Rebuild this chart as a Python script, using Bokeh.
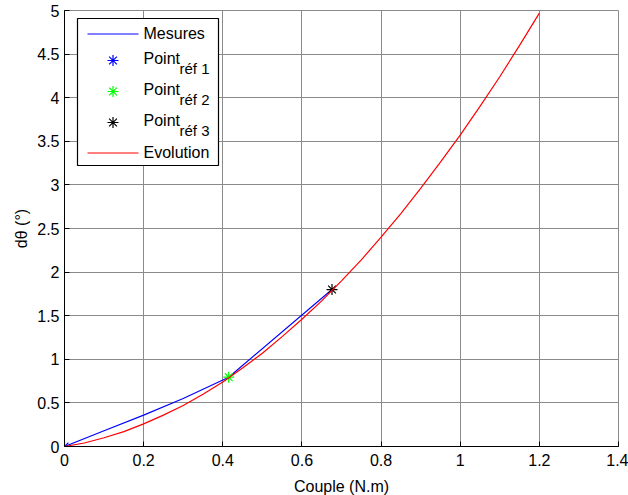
from bokeh.plotting import figure
from bokeh.models import Range1d, FixedTicker
from bokeh.core.properties import value
from bokeh.embed import file_html
from bokeh.resources import INLINE

# ---- data ----
couple_mes = [0.0, 0.1, 0.2, 0.3, 0.415, 0.676]
dtheta_mes = [0.0, 0.18, 0.36, 0.55, 0.795, 1.80]

ref_x = [0.0, 0.415, 0.676]
ref_y = [0.0, 0.795, 1.80]
ref_colors = ["#0000ff", "#00ff00", "#000000"]
ref_names = ["réf 1", "réf 2", "réf 3"]

couple_evo = [0.0, 0.05, 0.1, 0.15, 0.2, 0.25, 0.3, 0.35, 0.4, 0.45, 0.5, 0.55,
              0.6, 0.65, 0.7, 0.75, 0.8, 0.85, 0.9, 0.95, 1.0, 1.05, 1.1, 1.15, 1.2]
dtheta_evo = [0.0, 0.04, 0.10, 0.17, 0.26, 0.36, 0.47, 0.60, 0.74, 0.90, 1.07, 1.26,
              1.46, 1.67, 1.90, 2.14, 2.40, 2.67, 2.96, 3.26, 3.57, 3.90, 4.24, 4.60, 4.97]

x_ticks = [0, 0.2, 0.4, 0.6, 0.8, 1.0, 1.2, 1.4]
x_tick_labels = ["0", "0.2", "0.4", "0.6", "0.8", "1", "1.2", "1.4"]
y_ticks = [0, 0.5, 1, 1.5, 2, 2.5, 3, 3.5, 4, 4.5, 5]
y_tick_labels = ["0", "0.5", "1", "1.5", "2", "2.5", "3", "3.5", "4", "4.5", "5"]

X_RANGE = (0, 1.4)
Y_RANGE = (0, 5)
FW, FH = 554, 436
FONT = "Liberation Sans"
FS = "16px"

p = figure(frame_width=FW, frame_height=FH, output_backend="svg", toolbar_location=None,
           x_range=Range1d(*X_RANGE), y_range=Range1d(*Y_RANGE),
           min_border_left=64, min_border_right=10, min_border_top=10, min_border_bottom=0)
p.background_fill_color = "white"
p.border_fill_color = "white"
p.outline_line_color = "#8a8a8a"

for ax, ticks, labels in ((p.xaxis[0], x_ticks, x_tick_labels), (p.yaxis[0], y_ticks, y_tick_labels)):
    ax.ticker = FixedTicker(ticks=ticks)
    ax.major_label_overrides = {t: l for t, l in zip(ticks, labels)}
    ax.minor_tick_line_color = None
    ax.major_tick_in = 5
    ax.major_tick_out = 0
    ax.axis_line_color = "black"
    ax.major_tick_line_color = "black"
    ax.major_label_text_font = FONT
    ax.major_label_text_font_size = FS
    ax.major_label_text_color = "black"
    ax.axis_label_text_font = FONT
    ax.axis_label_text_font_size = FS
    ax.axis_label_text_font_style = "normal"
    ax.axis_label_text_color = "black"

p.xaxis.major_label_standoff = 7
p.yaxis.major_label_standoff = 5
p.xaxis.axis_label = "Couple (N.m)"
p.yaxis.axis_label = "dθ (°)"
p.xaxis.axis_label_standoff = 9
p.yaxis.axis_label_standoff = 4

p.xgrid.ticker = FixedTicker(ticks=x_ticks)
p.ygrid.ticker = FixedTicker(ticks=y_ticks)
p.grid.grid_line_color = "#8a8a8a"
p.grid.grid_line_width = 1

# ---- data marks ----
p.line(couple_mes, dtheta_mes, line_color="#0000ff", line_width=1.2)
for xx, yy, c in zip(ref_x, ref_y, ref_colors):
    p.scatter([xx], [yy], marker="asterisk", size=11, line_color=c, line_width=1.2)
p.line(couple_evo, dtheta_evo, line_color="#ff0000", line_width=1.2)


# ---- legend (drawn by hand so that the subscripts can be shown) ----
def dx(px):
    return X_RANGE[0] + px / FW * (X_RANGE[1] - X_RANGE[0])


def dy(py):
    return Y_RANGE[1] - py / FH * (Y_RANGE[1] - Y_RANGE[0])


p.quad(left=[dx(13)], right=[dx(154)], top=[dy(8)], bottom=[dy(155)],
       fill_color="white", line_color="black", line_width=1.2)

# marker samples
marker_rows = [50, 81, 112]
for row, c in zip(marker_rows, ref_colors):
    p.scatter([dx(48.5)], [dy(row)], marker="asterisk", size=11, line_color=c, line_width=1.2)

# line samples
p.line([dx(23), dx(74)], [dy(23.5), dy(23.5)], line_color="#0000ff", line_width=1.2)
p.line([dx(23), dx(74)], [dy(142.5), dy(142.5)], line_color="#ff0000", line_width=1.2)

# texts
p.text(x=[dx(79), dx(79)], y=[dy(23), dy(142)], text=["Mesures", "Evolution"],
       text_font=value(FONT), text_font_size=value(FS), text_color="black",
       text_baseline="middle", text_align="left")
p.text(x=[dx(79)] * 3, y=[dy(r - 2) for r in marker_rows], text=["Point"] * 3,
       text_font=value(FONT), text_font_size=value(FS), text_color="black",
       text_baseline="middle", text_align="left")
p.text(x=[dx(115)] * 3, y=[dy(r + 8) for r in marker_rows], text=ref_names,
       text_font=value(FONT), text_font_size=value("15px"), text_color="black",
       text_baseline="middle", text_align="left")

open("out.html", "w").write(file_html(p, INLINE))
